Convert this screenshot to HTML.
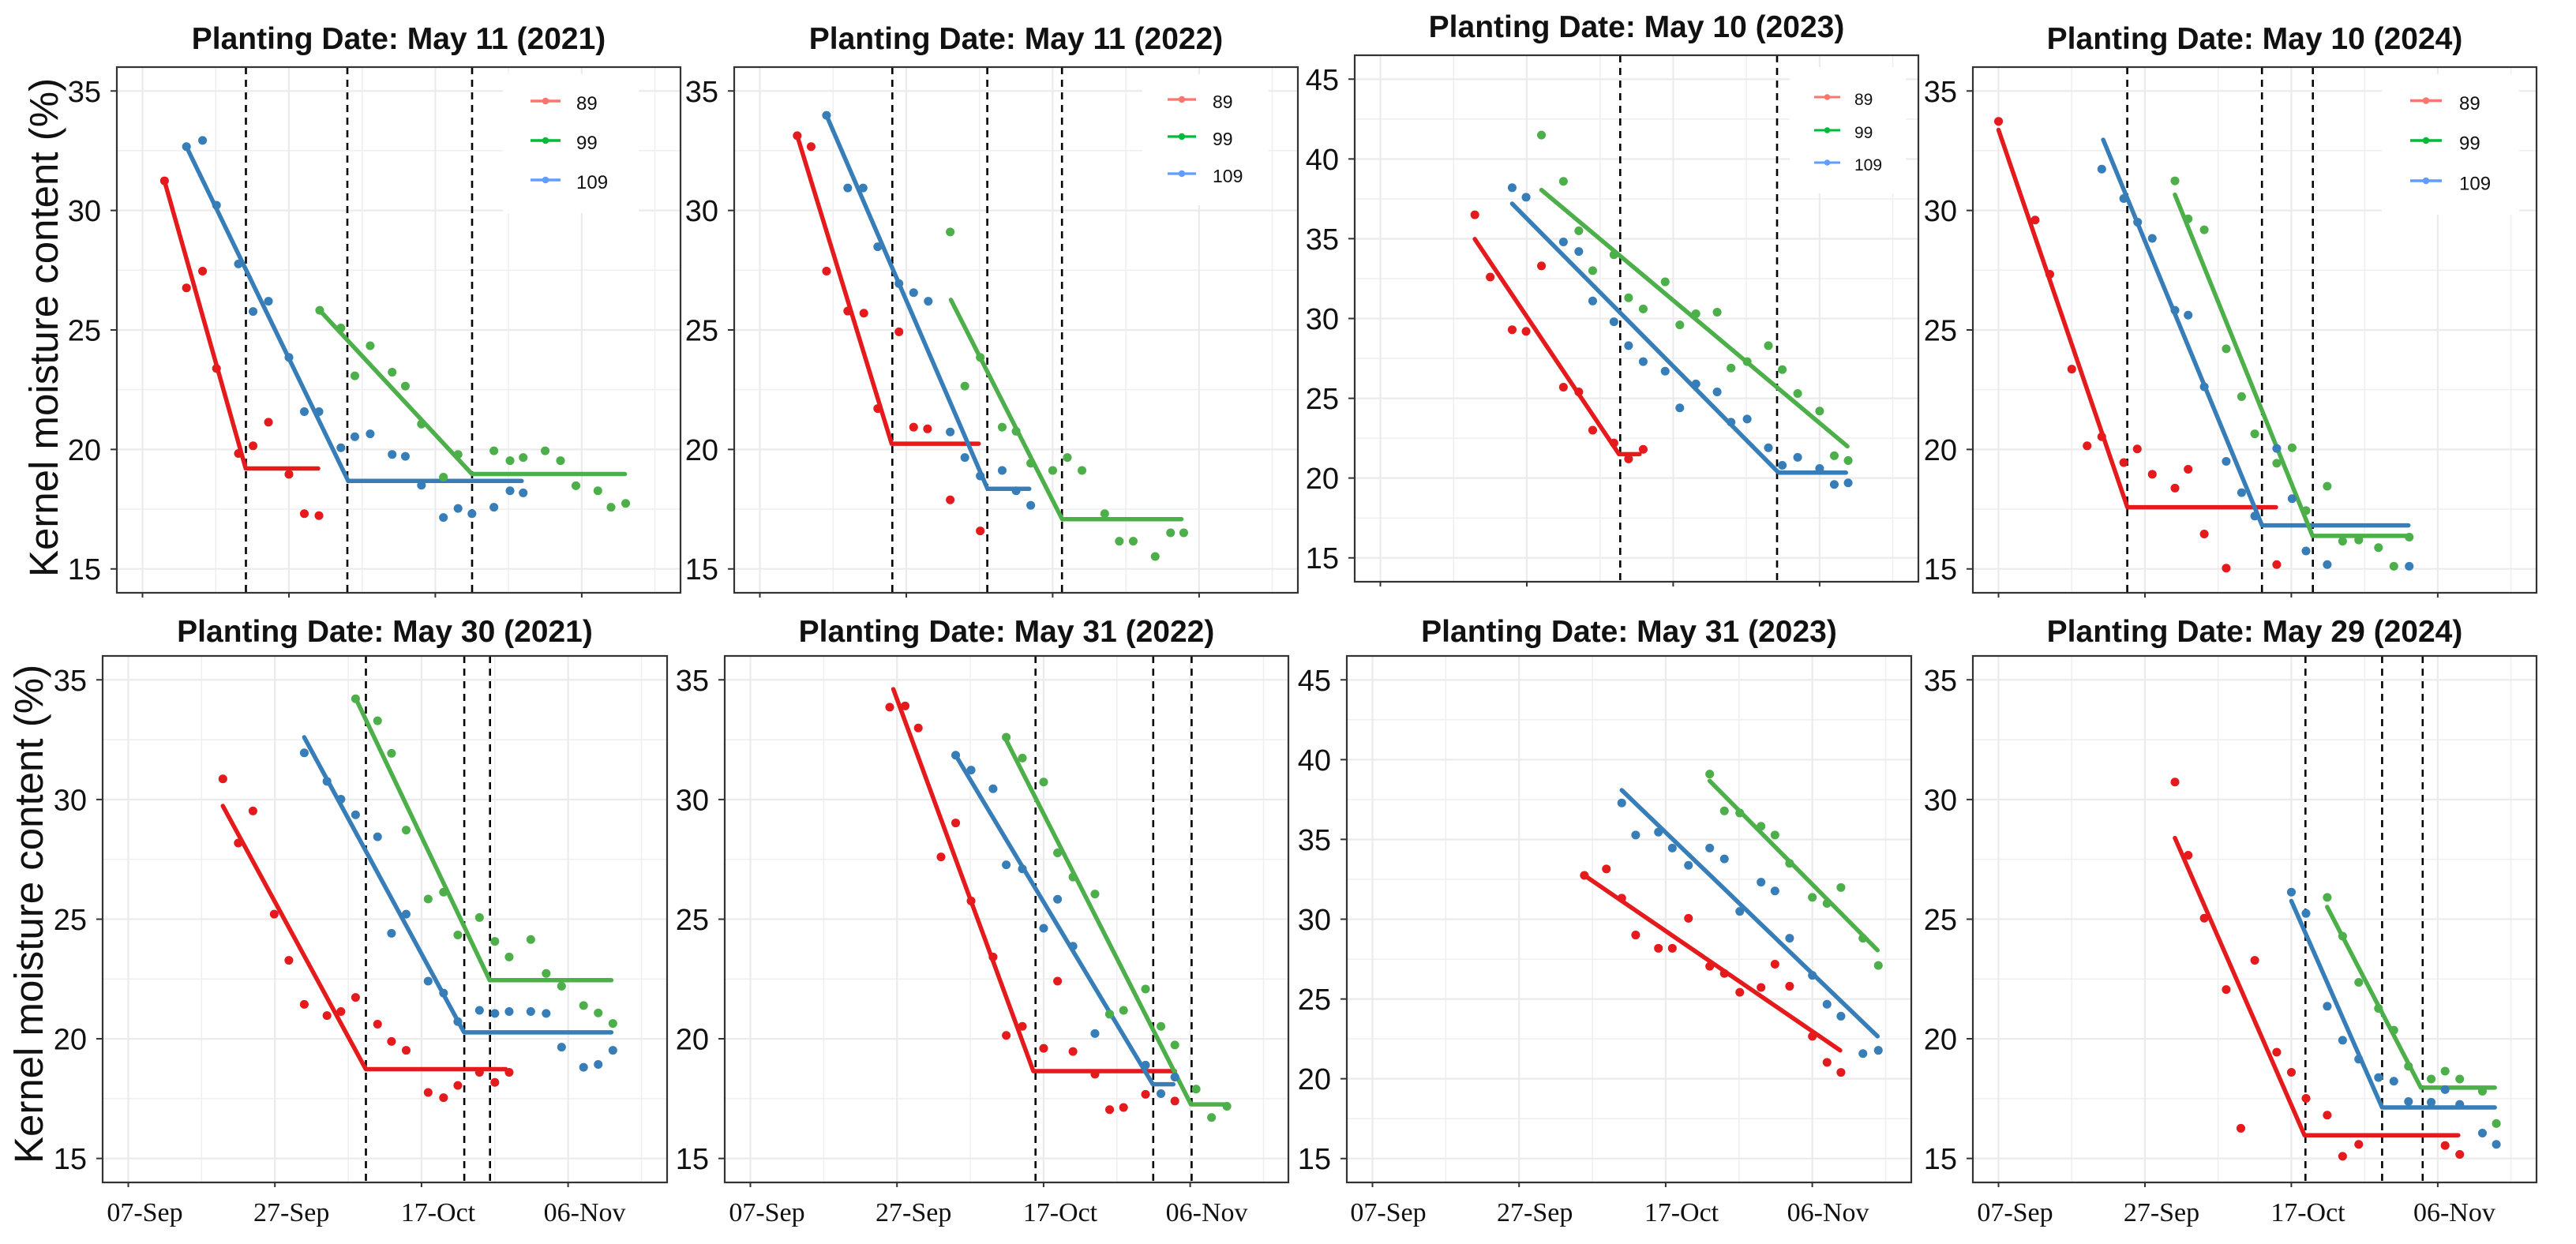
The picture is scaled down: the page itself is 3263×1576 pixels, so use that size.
<!DOCTYPE html>
<html>
<head>
<meta charset="utf-8">
<style>
html,body{margin:0;padding:0;background:#fff;}
svg{display:block;}
.g1{fill:none;stroke:#EBEBEB;stroke-width:2.2;vector-effect:non-scaling-stroke;}
.g2{fill:none;stroke:#EFEFEF;stroke-width:1.5;vector-effect:non-scaling-stroke;}
.ln{fill:none;stroke-width:5.5;stroke-linejoin:round;stroke-linecap:round;vector-effect:non-scaling-stroke;}
.dt{fill:none;stroke-width:11;stroke-linecap:round;vector-effect:non-scaling-stroke;}
.r{stroke:#E41A1C;}
.b{stroke:#377EB8;}
.gr{stroke:#4DAF4A;}
.dash{stroke:#000;stroke-width:2.6;stroke-dasharray:9 7;}
.bd{fill:none;stroke:#333;stroke-width:2.2;}
.tk{stroke:#333;stroke-width:2;}
.yl{font-family:"Liberation Sans",Arial,sans-serif;font-size:38px;fill:#111;text-anchor:end;}
.xl{font-family:"Liberation Serif","Times New Roman",serif;font-size:34px;fill:#111;text-anchor:middle;}
.tt{font-family:"Liberation Sans",Arial,sans-serif;font-size:39px;font-weight:bold;fill:#111;text-anchor:middle;}
.ax{font-family:"Liberation Sans",Arial,sans-serif;font-size:51px;fill:#111;text-anchor:middle;}
.lg{font-family:"Liberation Sans",Arial,sans-serif;fill:#111;}
</style>
</head>
<body>
<svg width="3263" height="1576" viewBox="0 0 3263 1576" xmlns="http://www.w3.org/2000/svg">
<rect x="0" y="0" width="3263" height="1576" fill="#fff"/>

<text class="ax" transform="translate(73,415) rotate(-90)">Kernel moisture content (%)</text>
<text class="ax" transform="translate(54,1158) rotate(-90)">Kernel moisture content (%)</text>

<!-- PANEL 1 -->
<text class="tt" x="505" y="62">Planting Date: May 11 (2021)</text>
<g transform="translate(180.5,1174.8) scale(9.2727,-30.273)">
<path class="g2" d="M10 14V36M30 14V36M50 14V36M70 14V36M-3.5 17.5H73.5M-3.5 22.5H73.5M-3.5 27.5H73.5M-3.5 32.5H73.5"/>
<path class="g1" d="M0 14V36M20 14V36M40 14V36M60 14V36M-3.5 15H73.5M-3.5 20H73.5M-3.5 25H73.5M-3.5 30H73.5M-3.5 35H73.5"/>
</g>
<rect x="637" y="94" width="172" height="176" fill="#fff"/>
<line class="dash" x1="311.5" y1="85" x2="311.5" y2="751"/>
<line class="dash" x1="440" y1="85" x2="440" y2="751"/>
<line class="dash" x1="598" y1="85" x2="598" y2="751"/>
<g transform="translate(180.5,1174.8) scale(9.2727,-30.273)">
<polyline class="ln r" points="3,31.24 14.1,19.2 24,19.2"/>
<polyline class="ln b" points="6,32.67 28.1,18.68 51.8,18.68"/>
<polyline class="ln gr" points="24.2,25.82 45,18.97 65.9,18.97"/>
<path class="dt r" d="M3 31.24h.01M6 26.76h.01M8.2 27.46h.01M10.1 23.39h.01M13.1 19.83h.01M15.1 20.15h.01M17.2 21.14h.01M20 18.96h.01M22.1 17.31h.01M24.1 17.23h.01"/>
<path class="dt b" d="M6 32.67h.01M8.2 32.93h.01M10.1 30.22h.01M13.1 27.76h.01M15.1 25.77h.01M17.2 26.2h.01M20 23.85h.01M22.1 21.58h.01M24.1 21.58h.01M27.1 20.07h.01M29 20.53h.01M31.1 20.65h.01M34.1 19.79h.01M35.9 19.71h.01M38.1 18.5h.01M41.1 17.15h.01M43.1 17.53h.01M45 17.31h.01M48 17.58h.01M50.2 18.27h.01M52 18.18h.01"/>
<path class="dt gr" d="M24.2 25.82h.01M27.1 25.08h.01M29 23.08h.01M31.1 24.34h.01M34.1 23.23h.01M35.9 22.65h.01M38.1 21.06h.01M41.1 18.84h.01M43.1 19.79h.01M48 19.94h.01M50.2 19.53h.01M52 19.66h.01M55 19.94h.01M57.1 19.53h.01M59.2 18.48h.01M62.2 18.27h.01M64 17.58h.01M66 17.74h.01"/>
</g>
<g>
<line x1="672" y1="128" x2="710" y2="128" stroke="#F8766D" stroke-width="3.4"/><circle cx="691" cy="128" r="4.3" fill="#F8766D"/>
<line x1="672" y1="178" x2="710" y2="178" stroke="#00BA38" stroke-width="3.4"/><circle cx="691" cy="178" r="4.3" fill="#00BA38"/>
<line x1="672" y1="228" x2="710" y2="228" stroke="#619CFF" stroke-width="3.4"/><circle cx="691" cy="228" r="4.3" fill="#619CFF"/>
<text class="lg" x="730" y="139" font-size="24">89</text>
<text class="lg" x="730" y="189" font-size="24">99</text>
<text class="lg" x="730" y="239" font-size="24">109</text>
</g>
<rect class="bd" x="148" y="85" width="714" height="666"/>
<path class="tk" d="M140 115.3H148M140 266.6H148M140 418H148M140 569.4H148M140 720.7H148M180.5 751V757M366 751V757M551.4 751V757M736.9 751V757"/>
<text class="yl" x="128" y="128.8">35</text>
<text class="yl" x="128" y="280.1">30</text>
<text class="yl" x="128" y="431.5">25</text>
<text class="yl" x="128" y="582.9">20</text>
<text class="yl" x="128" y="734.2">15</text>

<!-- PANEL 2 -->
<text class="tt" x="1287" y="62">Planting Date: May 11 (2022)</text>
<g transform="translate(962.5,1174.8) scale(9.2727,-30.273)">
<path class="g2" d="M10 14V36M30 14V36M50 14V36M70 14V36M-3.5 17.5H73.5M-3.5 22.5H73.5M-3.5 27.5H73.5M-3.5 32.5H73.5"/>
<path class="g1" d="M0 14V36M20 14V36M40 14V36M60 14V36M-3.5 15H73.5M-3.5 20H73.5M-3.5 25H73.5M-3.5 30H73.5M-3.5 35H73.5"/>
</g>
<rect x="1447" y="94" width="160" height="166" fill="#fff"/>
<line class="dash" x1="1130.3" y1="85" x2="1130.3" y2="751"/>
<line class="dash" x1="1250.6" y1="85" x2="1250.6" y2="751"/>
<line class="dash" x1="1345.2" y1="85" x2="1345.2" y2="751"/>
<g transform="translate(962.5,1174.8) scale(9.2727,-30.273)">
<polyline class="ln r" points="5.1,33.13 18,20.24 29.9,20.24"/>
<polyline class="ln b" points="9.1,33.98 31.1,18.35 36.8,18.35"/>
<polyline class="ln gr" points="26.1,26.26 41.3,17.08 57.6,17.08"/>
<path class="dt r" d="M5.1 33.13h.01M7 32.67h.01M9.1 27.46h.01M12 25.79h.01M14.2 25.7h.01M16.1 21.71h.01M19 24.92h.01M21 20.93h.01M22.9 20.86h.01M26 17.89h.01M30.1 16.59h.01"/>
<path class="dt b" d="M9.1 33.98h.01M12 30.94h.01M14.1 30.94h.01M16.1 28.48h.01M19 26.94h.01M21 26.56h.01M23 26.2h.01M26 20.73h.01M28 19.66h.01M30.1 18.89h.01M33.1 19.12h.01M35 18.27h.01M37 17.66h.01"/>
<path class="dt gr" d="M26 29.1h.01M28 22.65h.01M30.1 23.85h.01M33.1 20.93h.01M35 20.76h.01M37 19.42h.01M40 19.12h.01M42 19.66h.01M44 19.12h.01M47.1 17.31h.01M49.1 16.16h.01M51 16.16h.01M54 15.52h.01M56.1 16.51h.01M57.9 16.51h.01"/>
</g>
<g>
<line x1="1479" y1="126" x2="1515" y2="126" stroke="#F8766D" stroke-width="3.3"/><circle cx="1497" cy="126" r="4.2" fill="#F8766D"/>
<line x1="1479" y1="173" x2="1515" y2="173" stroke="#00BA38" stroke-width="3.3"/><circle cx="1497" cy="173" r="4.2" fill="#00BA38"/>
<line x1="1479" y1="220" x2="1515" y2="220" stroke="#619CFF" stroke-width="3.3"/><circle cx="1497" cy="220" r="4.2" fill="#619CFF"/>
<text class="lg" x="1536" y="137" font-size="23">89</text>
<text class="lg" x="1536" y="184" font-size="23">99</text>
<text class="lg" x="1536" y="231" font-size="23">109</text>
</g>
<rect class="bd" x="930" y="85" width="714" height="666"/>
<path class="tk" d="M922 115.3H930M922 266.6H930M922 418H930M922 569.4H930M922 720.7H930M962.5 751V757M1148 751V757M1333.4 751V757M1518.9 751V757"/>
<text class="yl" x="910" y="128.8">35</text>
<text class="yl" x="910" y="280.1">30</text>
<text class="yl" x="910" y="431.5">25</text>
<text class="yl" x="910" y="582.9">20</text>
<text class="yl" x="910" y="734.2">15</text>

<!-- PANEL 3 -->
<text class="tt" x="2073" y="47">Planting Date: May 10 (2023)</text>
<g transform="translate(1748.5,1009.9) scale(9.2727,-20.212)">
<path class="g2" d="M10 13.5V46.5M30 13.5V46.5M50 13.5V46.5M70 13.5V46.5M-3.5 17.5H73.5M-3.5 22.5H73.5M-3.5 27.5H73.5M-3.5 32.5H73.5M-3.5 37.5H73.5M-3.5 42.5H73.5"/>
<path class="g1" d="M0 13.5V46.5M20 13.5V46.5M40 13.5V46.5M60 13.5V46.5M-3.5 15H73.5M-3.5 20H73.5M-3.5 25H73.5M-3.5 30H73.5M-3.5 35H73.5M-3.5 40H73.5M-3.5 45H73.5"/>
</g>
<rect x="2267" y="85" width="147" height="160" fill="#fff"/>
<line class="dash" x1="2052.3" y1="70" x2="2052.3" y2="737"/>
<line class="dash" x1="2251" y1="70" x2="2251" y2="737"/>
<g transform="translate(1748.5,1009.9) scale(9.2727,-20.212)">
<polyline class="ln r" points="12.9,34.98 32.6,21.5 35.4,21.5"/>
<polyline class="ln b" points="18,37.2 54.4,20.34 63.6,20.34"/>
<polyline class="ln gr" points="22,38.06 63.8,21.99"/>
<path class="dt r" d="M12.9 36.5h.01M15 32.6h.01M18 29.3h.01M19.9 29.2h.01M22 33.3h.01M25 25.7h.01M27.1 25.4h.01M29 23h.01M31.9 22.2h.01M33.9 21.2h.01M35.9 21.8h.01"/>
<path class="dt b" d="M18 38.2h.01M19.9 37.6h.01M25 34.8h.01M27.1 34.2h.01M29 31.1h.01M31.9 29.8h.01M33.9 28.3h.01M35.9 27.3h.01M38.9 26.7h.01M40.9 24.4h.01M43.1 25.9h.01M46 25.4h.01M47.9 23.5h.01M50.1 23.7h.01M53 21.9h.01M54.9 20.8h.01M57 21.3h.01M60 20.6h.01M62 19.6h.01M63.9 19.7h.01"/>
<path class="dt gr" d="M22 41.5h.01M25 38.6h.01M27.1 35.5h.01M29 33h.01M31.9 34h.01M33.9 31.3h.01M35.9 30.6h.01M38.9 32.3h.01M40.9 29.6h.01M43.1 30.3h.01M46 30.4h.01M47.9 26.9h.01M50.1 27.3h.01M53 28.3h.01M54.9 26.8h.01M57 25.3h.01M60 24.2h.01M62 21.4h.01M63.9 21.1h.01"/>
</g>
<g>
<line x1="2298" y1="123" x2="2331" y2="123" stroke="#F8766D" stroke-width="3"/><circle cx="2314.5" cy="123" r="3.8" fill="#F8766D"/>
<line x1="2298" y1="165" x2="2331" y2="165" stroke="#00BA38" stroke-width="3"/><circle cx="2314.5" cy="165" r="3.8" fill="#00BA38"/>
<line x1="2298" y1="206" x2="2331" y2="206" stroke="#619CFF" stroke-width="3"/><circle cx="2314.5" cy="206" r="3.8" fill="#619CFF"/>
<text class="lg" x="2349" y="133" font-size="21">89</text>
<text class="lg" x="2349" y="175" font-size="21">99</text>
<text class="lg" x="2349" y="216" font-size="21">109</text>
</g>
<rect class="bd" x="1716" y="70" width="714" height="667"/>
<path class="tk" d="M1708 100.3H1716M1708 201.4H1716M1708 302.4H1716M1708 403.5H1716M1708 504.6H1716M1708 605.6H1716M1708 706.7H1716M1748.5 737V743M1934 737V743M2119.4 737V743M2304.9 737V743"/>
<text class="yl" x="1696" y="113.8">45</text>
<text class="yl" x="1696" y="214.9">40</text>
<text class="yl" x="1696" y="315.9">35</text>
<text class="yl" x="1696" y="417">30</text>
<text class="yl" x="1696" y="518.1">25</text>
<text class="yl" x="1696" y="619.1">20</text>
<text class="yl" x="1696" y="720.2">15</text>

<!-- PANEL 4 -->
<text class="tt" x="2856" y="62">Planting Date: May 10 (2024)</text>
<g transform="translate(2531.5,1174.8) scale(9.2727,-30.273)">
<path class="g2" d="M10 14V36M30 14V36M50 14V36M70 14V36M-3.5 17.5H73.5M-3.5 22.5H73.5M-3.5 27.5H73.5M-3.5 32.5H73.5"/>
<path class="g1" d="M0 14V36M20 14V36M40 14V36M60 14V36M-3.5 15H73.5M-3.5 20H73.5M-3.5 25H73.5M-3.5 30H73.5M-3.5 35H73.5"/>
</g>
<rect x="3017" y="94" width="174" height="178" fill="#fff"/>
<line class="dash" x1="2694.6" y1="85" x2="2694.6" y2="751"/>
<line class="dash" x1="2865.2" y1="85" x2="2865.2" y2="751"/>
<line class="dash" x1="2929.7" y1="85" x2="2929.7" y2="751"/>
<g transform="translate(2531.5,1174.8) scale(9.2727,-30.273)">
<polyline class="ln r" points="0,33.37 17.6,17.58 37.9,17.58"/>
<polyline class="ln b" points="14.3,32.96 36,16.82 56,16.82"/>
<polyline class="ln gr" points="24.1,30.66 42.9,16.38 56.3,16.38"/>
<path class="dt r" d="M0 33.73h.01M5 29.6h.01M7 27.33h.01M10 23.36h.01M12.1 20.15h.01M14.1 20.53h.01M17.1 19.45h.01M18.95 20.02h.01M21 18.96h.01M24.1 18.38h.01M25.9 19.17h.01M28.1 16.46h.01M31.1 15.03h.01M38 15.18h.01"/>
<path class="dt b" d="M14.1 31.73h.01M17.1 30.5h.01M19 29.51h.01M21 28.83h.01M24.1 25.82h.01M25.9 25.62h.01M28.1 22.62h.01M31.1 19.5h.01M33.2 18.19h.01M35 17.21h.01M38 20.04h.01M40.1 17.94h.01M42 15.75h.01M44.9 15.18h.01M56.1 15.11h.01"/>
<path class="dt gr" d="M24.1 31.24h.01M25.9 29.65h.01M28.1 29.19h.01M31.1 24.21h.01M33.2 22.21h.01M35 20.65h.01M38 19.42h.01M40.1 20.07h.01M42 17.44h.01M44.9 18.46h.01M47 16.16h.01M49.2 16.21h.01M51.9 15.89h.01M54 15.11h.01M56.1 16.33h.01"/>
</g>
<g>
<line x1="3053" y1="127.5" x2="3093" y2="127.5" stroke="#F8766D" stroke-width="3.4"/><circle cx="3073" cy="127.5" r="4.3" fill="#F8766D"/>
<line x1="3053" y1="178" x2="3093" y2="178" stroke="#00BA38" stroke-width="3.4"/><circle cx="3073" cy="178" r="4.3" fill="#00BA38"/>
<line x1="3053" y1="229" x2="3093" y2="229" stroke="#619CFF" stroke-width="3.4"/><circle cx="3073" cy="229" r="4.3" fill="#619CFF"/>
<text class="lg" x="3115" y="139" font-size="24">89</text>
<text class="lg" x="3115" y="189.5" font-size="24">99</text>
<text class="lg" x="3115" y="240.5" font-size="24">109</text>
</g>
<rect class="bd" x="2499" y="85" width="714" height="666"/>
<path class="tk" d="M2491 115.3H2499M2491 266.6H2499M2491 418H2499M2491 569.4H2499M2491 720.7H2499M2531.5 751V757M2717 751V757M2902.4 751V757M3087.9 751V757"/>
<text class="yl" x="2479" y="128.8">35</text>
<text class="yl" x="2479" y="280.1">30</text>
<text class="yl" x="2479" y="431.5">25</text>
<text class="yl" x="2479" y="582.9">20</text>
<text class="yl" x="2479" y="734.2">15</text>

<!-- PANEL 5 -->
<text class="tt" x="487.5" y="813">Planting Date: May 30 (2021)</text>
<g transform="translate(162.5,1922.4) scale(9.2857,-30.318)">
<path class="g2" d="M10 14V36M30 14V36M50 14V36M70 14V36M-3.5 17.5H73.5M-3.5 22.5H73.5M-3.5 27.5H73.5M-3.5 32.5H73.5"/>
<path class="g1" d="M0 14V36M20 14V36M40 14V36M60 14V36M-3.5 15H73.5M-3.5 20H73.5M-3.5 25H73.5M-3.5 30H73.5M-3.5 35H73.5"/>
</g>
<line class="dash" x1="463.5" y1="831" x2="463.5" y2="1498"/>
<line class="dash" x1="588.1" y1="831" x2="588.1" y2="1498"/>
<line class="dash" x1="620.7" y1="831" x2="620.7" y2="1498"/>
<g transform="translate(162.5,1922.4) scale(9.2857,-30.318)">
<polyline class="ln r" points="12.9,29.73 32.4,18.73 51.5,18.73"/>
<polyline class="ln b" points="24,32.6 45.8,20.27 65.9,20.27"/>
<polyline class="ln gr" points="31,34.24 49.3,22.45 65.9,22.45"/>
<path class="dt r" d="M12.9 30.86h.01M15 28.18h.01M17 29.52h.01M19.9 25.21h.01M21.9 23.28h.01M24 21.44h.01M27.1 20.97h.01M29 21.14h.01M31 21.73h.01M34 20.61h.01M35.9 19.89h.01M37.9 19.52h.01M40.9 17.76h.01M43 17.54h.01M44.95 18.05h.01M47.9 18.6h.01M50 18.18h.01M51.95 18.6h.01"/>
<path class="dt b" d="M24 31.95h.01M27.1 30.76h.01M29 30.01h.01M31 29.36h.01M34 28.44h.01M35.9 24.41h.01M37.9 25.21h.01M40.9 22.41h.01M43 21.91h.01M44.95 20.72h.01M47.9 21.19h.01M50 21.06h.01M51.95 21.14h.01M54.9 21.14h.01M57 21.06h.01M59.1 19.65h.01M62.1 18.81h.01M64.1 18.93h.01M66.1 19.52h.01"/>
<path class="dt gr" d="M31 34.21h.01M34 33.29h.01M35.9 31.93h.01M37.9 28.72h.01M40.9 25.84h.01M43 26.13h.01M44.95 24.34h.01M47.9 25.07h.01M50 24.07h.01M51.95 23.42h.01M54.9 24.15h.01M57 22.73h.01M59.1 22.2h.01M62.1 21.39h.01M64.1 21.08h.01M66.1 20.64h.01"/>
</g>
<rect class="bd" x="130" y="831" width="715" height="667"/>
<path class="tk" d="M122 861.3H130M122 1012.9H130M122 1164.5H130M122 1316H130M122 1467.6H130M162.5 1498V1504M348.2 1498V1504M533.9 1498V1504M719.6 1498V1504"/>
<text class="yl" x="110" y="874.8">35</text>
<text class="yl" x="110" y="1026.4">30</text>
<text class="yl" x="110" y="1178">25</text>
<text class="yl" x="110" y="1329.5">20</text>
<text class="yl" x="110" y="1481.1">15</text>
<text class="xl" x="183.5" y="1547">07-Sep</text>
<text class="xl" x="369.2" y="1547">27-Sep</text>
<text class="xl" x="554.9" y="1547">17-Oct</text>
<text class="xl" x="740.6" y="1547">06-Nov</text>

<!-- PANEL 6 -->
<text class="tt" x="1275" y="813">Planting Date: May 31 (2022)</text>
<g transform="translate(950.5,1922.4) scale(9.2857,-30.318)">
<path class="g2" d="M10 14V36M30 14V36M50 14V36M70 14V36M-3.5 17.5H73.5M-3.5 22.5H73.5M-3.5 27.5H73.5M-3.5 32.5H73.5"/>
<path class="g1" d="M0 14V36M20 14V36M40 14V36M60 14V36M-3.5 15H73.5M-3.5 20H73.5M-3.5 25H73.5M-3.5 30H73.5M-3.5 35H73.5"/>
</g>
<line class="dash" x1="1311.7" y1="831" x2="1311.7" y2="1498"/>
<line class="dash" x1="1460.8" y1="831" x2="1460.8" y2="1498"/>
<line class="dash" x1="1509.4" y1="831" x2="1509.4" y2="1498"/>
<g transform="translate(950.5,1922.4) scale(9.2857,-30.318)">
<polyline class="ln r" points="19.5,34.61 38.6,18.65 57.9,18.65"/>
<polyline class="ln b" points="27.9,31.9 54.9,18.1 57.7,18.1"/>
<polyline class="ln gr" points="34.7,32.6 60.1,17.26 65.1,17.26"/>
<path class="dt r" d="M19 33.86h.01M21.1 33.91h.01M22.9 32.99h.01M26 27.6h.01M28 29.02h.01M30.1 25.76h.01M33.1 23.42h.01M34.9 20.14h.01M37.1 20.52h.01M40 19.6h.01M41.9 22.41h.01M44 19.47h.01M47 18.52h.01M49 17.04h.01M50.9 17.13h.01M53.9 17.68h.01M57.9 17.4h.01"/>
<path class="dt b" d="M28 31.85h.01M30.1 31.23h.01M33.1 30.45h.01M34.9 27.27h.01M37.1 27.1h.01M40 24.62h.01M41.9 25.83h.01M44 23.87h.01M47 20.22h.01M49 21.03h.01M53.9 18.9h.01M56 17.71h.01M57.9 18.4h.01"/>
<path class="dt gr" d="M34.9 32.6h.01M37.1 31.73h.01M40 30.73h.01M41.9 27.77h.01M44 26.76h.01M47 26.05h.01M49 21.03h.01M50.9 21.19h.01M53.9 22.08h.01M56 20.52h.01M57.9 19.74h.01M60.8 17.9h.01M62.9 16.71h.01M65 17.18h.01"/>
</g>
<rect class="bd" x="918" y="831" width="714" height="667"/>
<path class="tk" d="M910 861.3H918M910 1012.9H918M910 1164.5H918M910 1316H918M910 1467.6H918M950.5 1498V1504M1136.2 1498V1504M1321.9 1498V1504M1507.6 1498V1504"/>
<text class="yl" x="898" y="874.8">35</text>
<text class="yl" x="898" y="1026.4">30</text>
<text class="yl" x="898" y="1178">25</text>
<text class="yl" x="898" y="1329.5">20</text>
<text class="yl" x="898" y="1481.1">15</text>
<text class="xl" x="971.5" y="1547">07-Sep</text>
<text class="xl" x="1157.2" y="1547">27-Sep</text>
<text class="xl" x="1342.9" y="1547">17-Oct</text>
<text class="xl" x="1528.6" y="1547">06-Nov</text>

<!-- PANEL 7 -->
<text class="tt" x="2063.5" y="813">Planting Date: May 31 (2023)</text>
<g transform="translate(1738.5,1770.9) scale(9.2857,-20.212)">
<path class="g2" d="M10 13.5V46.5M30 13.5V46.5M50 13.5V46.5M70 13.5V46.5M-3.5 17.5H73.5M-3.5 22.5H73.5M-3.5 27.5H73.5M-3.5 32.5H73.5M-3.5 37.5H73.5M-3.5 42.5H73.5"/>
<path class="g1" d="M0 13.5V46.5M20 13.5V46.5M40 13.5V46.5M60 13.5V46.5M-3.5 15H73.5M-3.5 20H73.5M-3.5 25H73.5M-3.5 30H73.5M-3.5 35H73.5M-3.5 40H73.5M-3.5 45H73.5"/>
<polyline class="ln r" points="28.9,32.75 63.8,21.78"/>
<polyline class="ln b" points="34,38.09 68.9,22.66"/>
<polyline class="ln gr" points="46,38.67 68.9,28.06"/>
<path class="dt r" d="M28.9 32.75h.01M31.9 33.15h.01M34 31.32h.01M35.9 29.01h.01M39 28.18h.01M40.9 28.18h.01M43.1 30.06h.01M46 27.05h.01M48 26.6h.01M50.1 25.42h.01M53 25.72h.01M54.9 27.18h.01M56.9 25.8h.01M60 22.66h.01M62 21.03h.01M63.9 20.4h.01"/>
<path class="dt b" d="M34 37.29h.01M35.9 35.28h.01M39 35.46h.01M40.9 34.46h.01M43.1 33.38h.01M46 34.46h.01M48 33.78h.01M50.1 30.49h.01M53 32.32h.01M54.9 31.77h.01M56.9 28.81h.01M60 26.48h.01M62 24.67h.01M63.9 23.92h.01M66.9 21.58h.01M69 21.78h.01"/>
<path class="dt gr" d="M46 39.1h.01M48 36.79h.01M50.1 36.66h.01M53 35.83h.01M54.9 35.28h.01M56.9 33.5h.01M60 31.37h.01M62 30.99h.01M63.9 31.99h.01M66.9 28.81h.01M69 27.1h.01"/>
</g>
<rect class="bd" x="1706" y="831" width="715" height="667"/>
<path class="tk" d="M1698 861.3H1706M1698 962.4H1706M1698 1063.4H1706M1698 1164.5H1706M1698 1265.6H1706M1698 1366.6H1706M1698 1467.7H1706M1738.5 1498V1504M1924.2 1498V1504M2109.9 1498V1504M2295.6 1498V1504"/>
<text class="yl" x="1686" y="874.8">45</text>
<text class="yl" x="1686" y="975.9">40</text>
<text class="yl" x="1686" y="1076.9">35</text>
<text class="yl" x="1686" y="1178">30</text>
<text class="yl" x="1686" y="1279.1">25</text>
<text class="yl" x="1686" y="1380.1">20</text>
<text class="yl" x="1686" y="1481.2">15</text>
<text class="xl" x="1758.5" y="1547">07-Sep</text>
<text class="xl" x="1944.2" y="1547">27-Sep</text>
<text class="xl" x="2129.9" y="1547">17-Oct</text>
<text class="xl" x="2315.6" y="1547">06-Nov</text>

<!-- PANEL 8 -->
<text class="tt" x="2856" y="813">Planting Date: May 29 (2024)</text>
<g transform="translate(2531.5,1922.4) scale(9.2727,-30.318)">
<path class="g2" d="M10 14V36M30 14V36M50 14V36M70 14V36M-3.5 17.5H73.5M-3.5 22.5H73.5M-3.5 27.5H73.5M-3.5 32.5H73.5"/>
<path class="g1" d="M0 14V36M20 14V36M40 14V36M60 14V36M-3.5 15H73.5M-3.5 20H73.5M-3.5 25H73.5M-3.5 30H73.5M-3.5 35H73.5"/>
</g>
<line class="dash" x1="2920.3" y1="831" x2="2920.3" y2="1498"/>
<line class="dash" x1="3017.4" y1="831" x2="3017.4" y2="1498"/>
<line class="dash" x1="3068.8" y1="831" x2="3068.8" y2="1498"/>
<g transform="translate(2531.5,1922.4) scale(9.2727,-30.318)">
<polyline class="ln r" points="24.1,28.39 41.8,15.97 62.8,15.97"/>
<polyline class="ln b" points="40,25.76 52.4,17.13 67.8,17.13"/>
<polyline class="ln gr" points="44.9,25.51 57.7,17.96 67.8,17.96"/>
<path class="dt r" d="M24.1 30.73h.01M25.9 27.67h.01M28.1 25.04h.01M31.1 22.06h.01M33.1 16.26h.01M35 23.28h.01M38 19.44h.01M40 18.6h.01M42 17.51h.01M44.9 16.81h.01M47 15.09h.01M49.2 15.59h.01M61 15.54h.01M63 15.17h.01"/>
<path class="dt b" d="M40 26.13h.01M42 25.24h.01M44.9 21.36h.01M47 19.94h.01M49.2 19.15h.01M51.9 18.38h.01M54 18.23h.01M56 17.38h.01M59.1 17.35h.01M61 17.88h.01M63 17.26h.01M66.1 16.06h.01M68 15.59h.01"/>
<path class="dt gr" d="M44.9 25.91h.01M47 24.29h.01M49.2 22.36h.01M51.9 21.27h.01M54 20.36h.01M56 18.85h.01M59.1 18.32h.01M61 18.65h.01M63 18.32h.01M66.1 17.81h.01M68 16.46h.01"/>
</g>
<rect class="bd" x="2499" y="831" width="714" height="667"/>
<path class="tk" d="M2491 861.3H2499M2491 1012.9H2499M2491 1164.5H2499M2491 1316H2499M2491 1467.6H2499M2531.5 1498V1504M2717 1498V1504M2902.4 1498V1504M3087.9 1498V1504"/>
<text class="yl" x="2479" y="874.8">35</text>
<text class="yl" x="2479" y="1026.4">30</text>
<text class="yl" x="2479" y="1178">25</text>
<text class="yl" x="2479" y="1329.5">20</text>
<text class="yl" x="2479" y="1481.1">15</text>
<text class="xl" x="2552.5" y="1547">07-Sep</text>
<text class="xl" x="2738" y="1547">27-Sep</text>
<text class="xl" x="2923.4" y="1547">17-Oct</text>
<text class="xl" x="3108.9" y="1547">06-Nov</text>

</svg>
</body>
</html>
